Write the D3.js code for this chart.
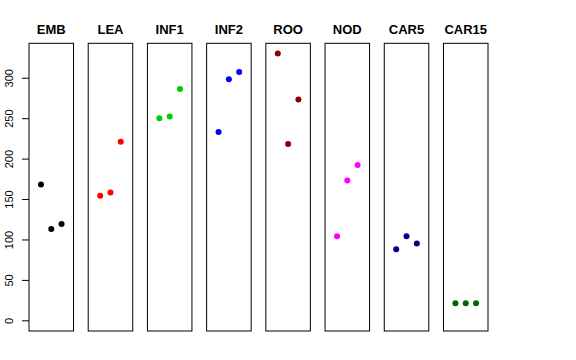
<!DOCTYPE html>
<html>
<head>
<meta charset="utf-8">
<script src="https://cdn.jsdelivr.net/npm/d3@7"></script>
<style>
body { margin: 0; background: #fff; }
text { font-family: "Liberation Sans", Arial, Helvetica, sans-serif; }
</style>
</head>
<body>
<div id="chart"></div>
<script>
// groups and their three readings each
var groups = ["EMB", "LEA", "INF1", "INF2", "ROO", "NOD", "CAR5", "CAR15"];
var emb  = [168, 113, 119];
var lea  = [154, 158, 221];
var inf1 = [250, 252, 286];
var inf2 = [233, 298, 307];
var roo  = [330, 218, 273];
var nod  = [104, 173, 192];
var car5 = [88, 104, 95];
var car15 = [21, 21, 21];
var yTicks = [0, 50, 100, 150, 200, 250, 300];

var series = [emb, lea, inf1, inf2, roo, nod, car5, car15];
var colors = ["#000000", "#FF0000", "#00CD00", "#0000FF", "#8B0000", "#FF00FF", "#00008B", "#006400"];

var width = 576, height = 360;

var svg = d3.select("#chart").append("svg")
  .attr("width", width)
  .attr("height", height);

var x = d3.scaleBand()
  .domain(groups)
  .range([29, 488])
  .paddingInner(0.248)
  .paddingOuter(0);

// inside each panel the points sit at 1,2,3 on a 0..4 range (with R's 4% pad)
var xi = d3.scaleLinear()
  .domain([-0.16, 4.16])
  .range([0, x.bandwidth()]);

var y = d3.scaleLinear()
  .domain([-13.2, 342.6])
  .range([331, 43.3]);

var panels = svg.selectAll("g.panel")
  .data(groups)
  .join("g")
  .attr("class", "panel")
  .attr("transform", d => `translate(${x(d)},0)`);

panels.append("rect")
  .attr("x", 0)
  .attr("y", y.range()[1])
  .attr("width", x.bandwidth())
  .attr("height", y.range()[0] - y.range()[1])
  .attr("fill", "none")
  .attr("stroke", "#000")
  .attr("stroke-width", 1);

panels.append("text")
  .attr("x", x.bandwidth() / 2)
  .attr("y", 33.7)
  .attr("text-anchor", "middle")
  .attr("font-size", "13px")
  .attr("font-weight", "bold")
  .text(d => d);

panels.each(function (g, i) {
  d3.select(this).selectAll("circle")
    .data(series[i])
    .join("circle")
    .attr("cx", (d, j) => xi(j + 1))
    .attr("cy", d => y(d))
    .attr("r", 3)
    .attr("fill", colors[i]);
});

// y axis on the first panel
var yAxis = svg.append("g")
  .attr("transform", `translate(${x(groups[0])},0)`)
  .call(d3.axisLeft(y).tickValues(yTicks).tickSize(7).tickPadding(0));

yAxis.select(".domain").remove();
yAxis.selectAll(".tick line").attr("stroke", "#000");
yAxis.selectAll(".tick text")
  .attr("transform", "rotate(-90)")
  .attr("x", 0)
  .attr("y", -16)
  .attr("dy", 0)
  .attr("text-anchor", "middle")
  .attr("font-size", "11px")
  .attr("fill", "#000");
</script>
</body>
</html>
